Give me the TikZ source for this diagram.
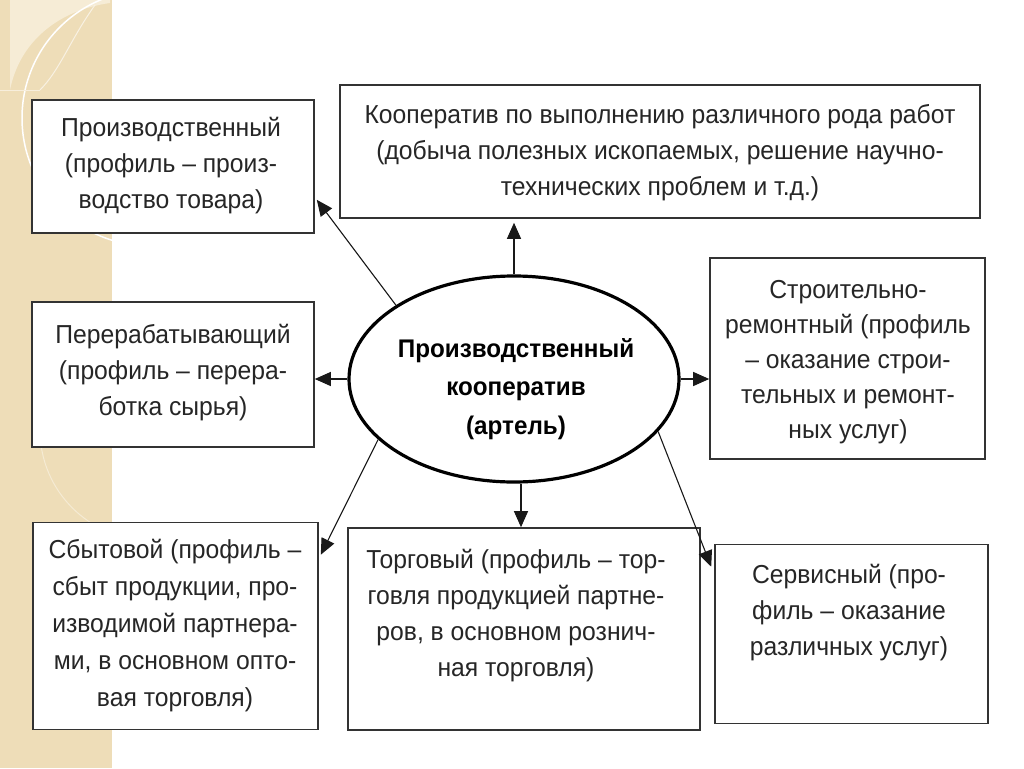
\documentclass[tikz,border=0pt]{standalone}
\usepackage{fontspec}
\setmainfont{Liberation Sans}[FakeStretch=0.95]
\usetikzlibrary{arrows.meta,shapes.geometric,calc}
\definecolor{strip}{HTML}{EEDDB8}
\definecolor{stripl}{HTML}{F6ECD6}
\begin{document}
\begin{tikzpicture}[x=1pt,y=-1pt,
  box/.style={draw=black!80,line width=1.6pt,fill=white,inner sep=0pt},
  txt/.style={align=center,font=\fontsize{26}{36}\selectfont,text=black!85,inner sep=0pt},
  conn/.style={line width=1.1pt,draw=black!90,-{Triangle[length=16pt,width=14pt]}},
]
\useasboundingbox (0,0) rectangle (1024,768);
\fill[white] (0,0) rectangle (1024,768);
\fill[strip] (0,0) rectangle (112,768);
\begin{scope}
\clip (0,0) rectangle (112,768);
\fill[stripl] (10,90) .. controls (20,40) and (60,10) .. (110,3) -- (110,0) -- (10,0) -- cycle;
\draw[white,line width=1.5pt] (150,118) circle (128);
\draw[white!60!strip,line width=1pt] (95,5) .. controls (70,40) and (60,70) .. (40,90);
\draw[white!50!strip,line width=1pt] (0,90) -- (40,90);
\draw[white!40!strip,line width=1pt] (150,430) circle (110);
\end{scope}

% boxes
\node[box,minimum width=282pt,minimum height=133pt] (b1) at (173,166.5) {};
\node[box,minimum width=640pt,minimum height=133pt] (b2) at (660,151.5) {};
\node[box,minimum width=282pt,minimum height=145pt] (b3) at (173,374.5) {};
\node[box,minimum width=275pt,minimum height=201pt] (b4) at (847.5,358.5) {};
\node[box,minimum width=285pt,minimum height=207pt] (b5) at (175.5,626) {};
\node[box,minimum width=352pt,minimum height=202pt] (b6) at (524,629) {};
\node[box,minimum width=273pt,minimum height=179pt] (b7) at (851.5,634) {};

% centre ellipse
\node[ellipse,draw=black,line width=3.2pt,fill=white,minimum width=330pt,minimum height=206pt,inner sep=0pt] (c) at (514,379) {};
\node[align=center,font=\bfseries\fontsize{25.5}{38.5}\selectfont,inner sep=0pt] (ct) at (516,389) {Производственный\\кооператив\\(артель)};

% texts
\node[txt] (t1) at (171,166) {Производственный\\(профиль – произ-\\водство товара)};
\node[txt] (t2) at (660,153) {Кооператив по выполнению различного рода работ\\(добыча полезных ископаемых, решение научно-\\технических проблем и т.д.)};
\node[txt] (t3) at (173,373) {Перерабатывающий\\(профиль – перера-\\ботка сырья)};
\node[txt,font=\fontsize{26}{35}\selectfont] (t4) at (848,362) {Строительно-\\ремонтный (профиль\\– оказание строи-\\тельных и ремонт-\\ных услуг)};
\node[txt,font=\fontsize{26}{37}\selectfont] (t5) at (175,626) {Сбытовой (профиль –\\сбыт продукции, про-\\изводимой партнера-\\ми, в основном опто-\\вая торговля)};
\node[txt] (t6) at (516,616) {Торговый (профиль – тор-\\говля продукцией партне-\\ров, в основном рознич-\\ная торговля)};
\node[txt] (t7) at (849,613) {Сервисный (про-\\филь – оказание\\различных услуг)};

% connectors
\coordinate (e1) at ($(b1.south east)+(2,-34)$);
\coordinate (e5) at ($(b5.north east)+(2,33)$);
\coordinate (e7) at ($(b7.north west)+(-3,23)$);
\draw[conn] (c.north) -- ([yshift=-4pt]c.north |- b2.south);
\draw[conn] (c.west) -- (c.west -| b3.east);
\draw[conn] (c.east) -- (c.east -| b4.west);
\draw[conn] ([xshift=7pt]c.south) -- ([xshift=7pt]c.south |- b6.north);
\draw[conn] (c.148) -- (e1);
\draw[conn] (c.204) -- (e5);
\draw[conn] (c.-20) -- (e7);
\end{tikzpicture}
\end{document}
